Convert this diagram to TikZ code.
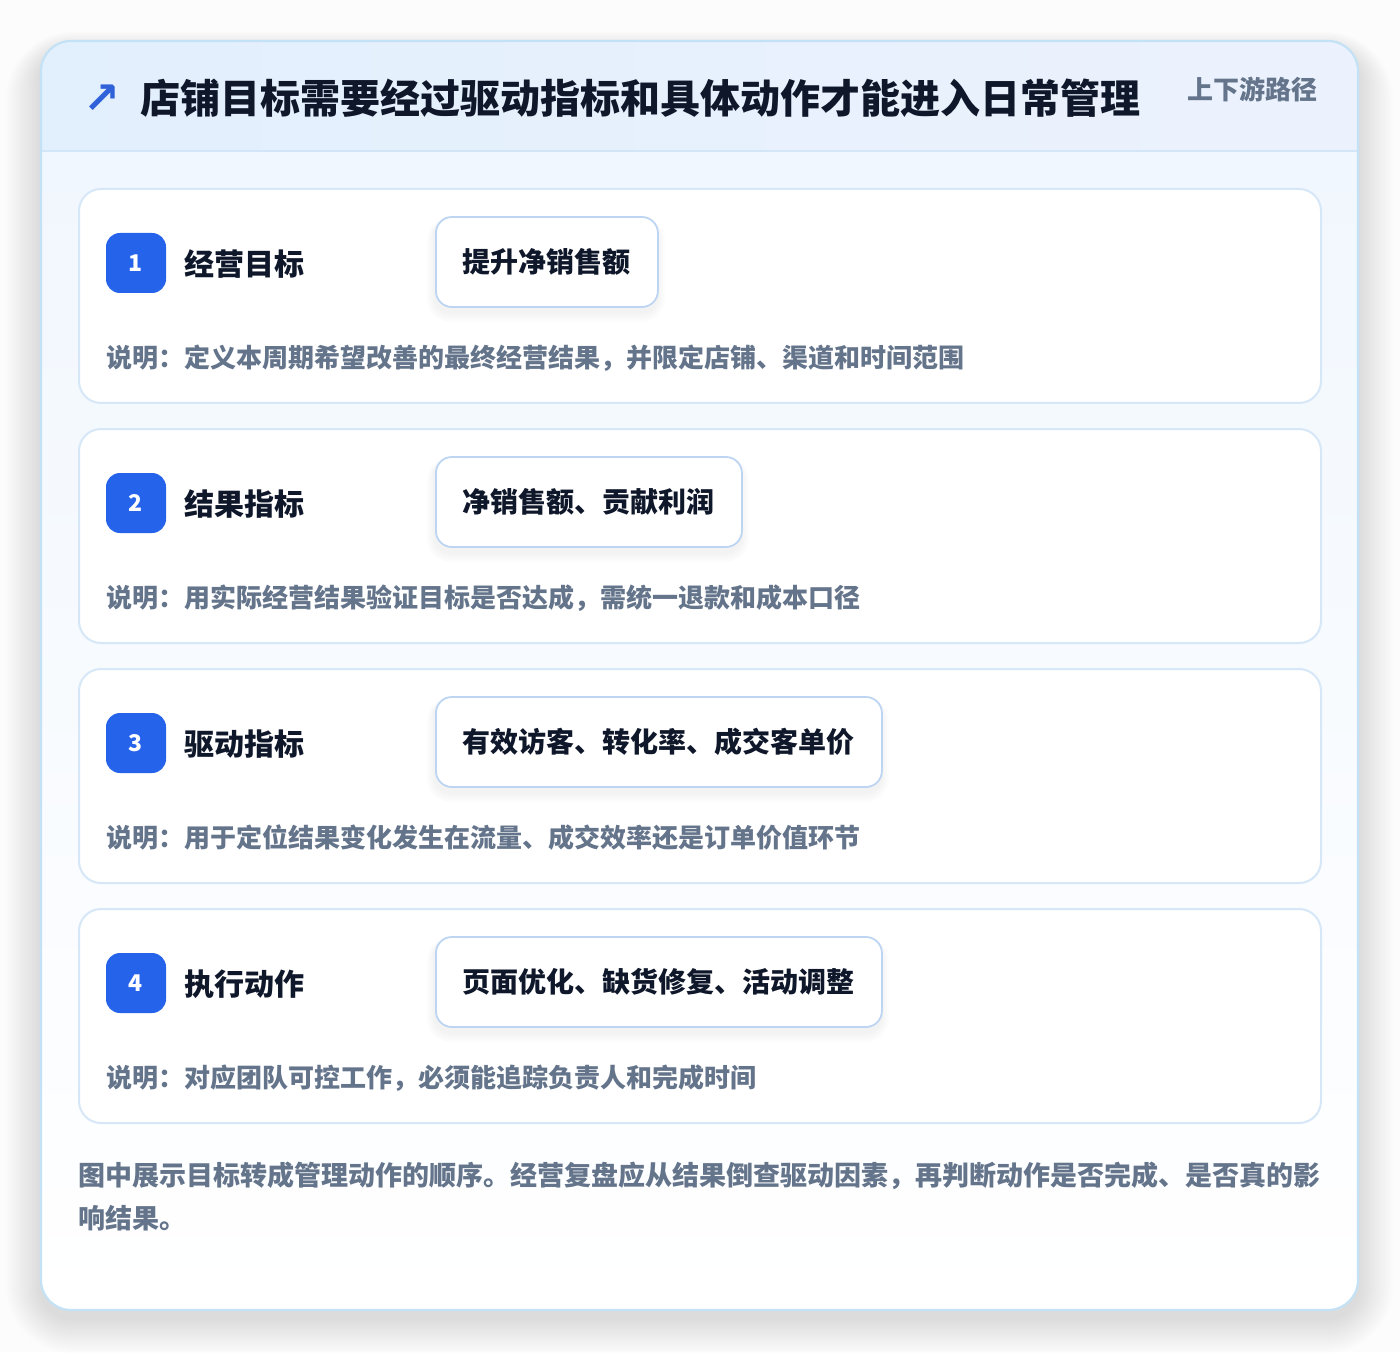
\documentclass[tikz,border=0pt]{standalone}
\usepackage{fontspec}
\setmainfont{Noto Sans CJK SC}
\newfontfamily\symfont{DejaVu Sans}
\definecolor{pagebg}{HTML}{FCFCFD}
\definecolor{hdrL}{HTML}{E2EFFD}
\definecolor{hdrR}{HTML}{ECF2FD}
\definecolor{bodyTop}{HTML}{F1F7FE}
\definecolor{outerB}{HTML}{C3E2F5}
\definecolor{hdrLine}{HTML}{D3E6F7}
\definecolor{cardB}{HTML}{D6E7F8}
\definecolor{tagB}{HTML}{BDD5F2}
\definecolor{badgeC}{HTML}{2563EB}
\definecolor{ink}{HTML}{0F172A}
\definecolor{slate}{HTML}{64748B}
\definecolor{iconC}{HTML}{2F62D9}
\definecolor{shadowC}{HTML}{1E293B}
\tikzset{
  stepcard/.style={draw=cardB, line width=1pt, fill=white, rounded corners=11pt},
  badge/.style={fill=badgeC, text=white, rounded corners=7pt, minimum size=30pt, inner sep=0pt, font=\fontsize{11.5}{13}\selectfont\bfseries},
  steptitle/.style={text=ink, inner sep=0pt, font=\fontsize{15}{18}\selectfont\bfseries},
  tagbox/.style={draw=tagB, line width=0.9pt, fill=white, rounded corners=8pt, text=ink, inner xsep=13.5pt, inner ysep=0pt, minimum height=45pt, font=\fontsize{14}{17}\selectfont\bfseries},
  desc/.style={text=slate, inner sep=0pt, font=\fontsize{13}{16}\selectfont\bfseries},
  foot/.style={text=slate, inner sep=0pt, font=\fontsize{13.5}{16}\selectfont\bfseries},
  softshadow/.style={fill=shadowC, fill opacity=#1},
}
\begin{document}
\begin{tikzpicture}[x=0.5pt,y=-0.5pt]
\fill[pagebg] (0,0) rectangle (1400,1352);
\useasboundingbox (0,0) rectangle (1400,1352);
% outer card soft shadow
\foreach \k in {1,...,16} {
  \fill[softshadow=0.007, rounded corners={15pt+\k*1.2pt}] ({41-\k*2.2},{41+10-\k*1.2}) rectangle ({1358+\k*2.2},{1310+8+\k*2.2});
}
\begin{scope}
  \clip[rounded corners=15pt] (41,41) rectangle (1358,1310);
  \shade[top color=bodyTop, bottom color=white] (41,151) rectangle (1358,1310);
  \shade[left color=hdrL, right color=hdrR] (41,41) rectangle (1358,151);
  \draw[hdrLine, line width=1pt] (41,151) -- (1358,151);
\end{scope}
\draw[outerB, line width=1.1pt, rounded corners=15pt] (41,41) rectangle (1358,1310);
% header
\node[text=iconC, inner sep=0pt, font=\symfont\bfseries\fontsize{22}{24}\selectfont] (icon) at (102,99) {↗};
\node[anchor=west, text=ink, inner sep=0pt, font=\fontsize{20}{24}\selectfont\bfseries] (title) at (140,98) {店铺目标需要经过驱动指标和具体动作才能进入日常管理};
\node[anchor=east, text=slate, inner sep=0pt, font=\fontsize{13}{16}\selectfont\bfseries] (subtitle) at (1318,89) {上下游路径};
% steps
\foreach \i/\name/\tag/\desc/\tw in {
  1/经营目标/提升净销售额/{说明：定义本周期希望改善的最终经营结果，并限定店铺、渠道和时间范围}/222,
  2/结果指标/{净销售额、贡献利润}/{说明：用实际经营结果验证目标是否达成，需统一退款和成本口径}/306,
  3/驱动指标/{有效访客、转化率、成交客单价}/{说明：用于定位结果变化发生在流量、成交效率还是订单价值环节}/446,
  4/执行动作/{页面优化、缺货修复、活动调整}/{说明：对应团队可控工作，必须能追踪负责人和完成时间}/446} {
  \pgfmathsetmacro\yo{240*(\i-1)}
  \draw[stepcard] (79,{189+\yo}) rectangle (1321,{403+\yo});
  \foreach \s in {1,...,4} {
    \fill[softshadow=0.012, rounded corners={8pt+\s*1pt}] ({435-\s*2},{217+4+\yo-\s*1}) rectangle ({435+\tw+\s*2},{307+5+\yo+\s*2.5});
  }
  \node[badge] (b\i) at (136,{263+\yo}) {\i};
  \node[steptitle, anchor=west] (t\i) at (184,{264+\yo}) {\name};
  \node[tagbox, anchor=west] (g\i) at (435,{262+\yo}) {\tag};
  \node[desc, anchor=west] (d\i) at (106,{358+\yo}) {\desc};
}
% footer
\node[foot, anchor=west] (f1) at (78,1176) {图中展示目标转成管理动作的顺序。经营复盘应从结果倒查驱动因素，再判断动作是否完成、是否真的影};
\node[foot, anchor=west] (f2) at (78,1218) {响结果。};
\end{tikzpicture}
\end{document}
